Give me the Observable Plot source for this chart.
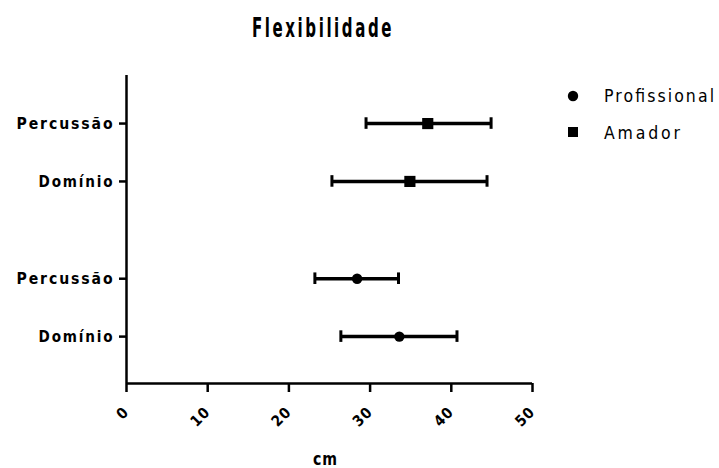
<!DOCTYPE html>
<html>
<head>
<meta charset="utf-8">
<script src="https://cdn.jsdelivr.net/npm/d3@7"></script>
<script src="https://cdn.jsdelivr.net/npm/@observablehq/plot@0.6"></script>
<style>
  html, body { margin: 0; padding: 0; background: #fff; }
  #wrap { position: relative; width: 719px; height: 468px; overflow: hidden; }
  #chart, #overlay { position: absolute; left: 0; top: 0; }
  #overlay text { font-family: "DejaVu Sans Condensed", "DejaVu Sans", sans-serif; fill: #000; }
  .yt text { font-weight: bold; letter-spacing: 2px; }
  .xt text { font-weight: bold; letter-spacing: 1px; }
</style>
</head>
<body>
<div id="wrap">
  <div id="chart"></div>
  <svg id="overlay" width="719" height="468"></svg>
</div>
<script>
const title = "Flexibilidade";
const groups = ["Profissional", "Amador"];
const categories = ["Domínio", "Percussão"];
const profMean = [33.6, 28.4];
const profLow = [26.4, 23.2];
const profHigh = [40.7, 33.5];
const amadorMean = [34.9, 37.1];
const amadorLow = [25.3, 29.5];
const amadorHigh = [44.4, 44.9];
const xTicks = [0, 10, 20, 30, 40, 50];
const xTitle = "cm";

const FONT = '"DejaVu Sans Condensed", "DejaVu Sans", sans-serif';
const groupGap = 0.68;
const series = [
  {group: groups[0], mean: profMean, low: profLow, high: profHigh, symbol: "circle", r: 5.2},
  {group: groups[1], mean: amadorMean, low: amadorLow, high: amadorHigh, symbol: "square", r: 6.3}
];
const rows = [];
series.forEach((s, gi) => {
  categories.forEach((c, i) => {
    rows.push({
      group: s.group, category: c, mean: s.mean[i], low: s.low[i], high: s.high[i],
      pos: gi * (categories.length + groupGap) + i, symbol: s.symbol, r: s.r
    });
  });
});
const labelAt = new Map(rows.map(d => [d.pos, d.category]));
const capHalf = 0.1;
const yMin = -0.81, yMax = rows[rows.length - 1].pos + 0.83;

const plot = Plot.plot({
  width: 719,
  height: 468,
  marginLeft: 126,
  marginRight: 187,
  marginTop: 75,
  marginBottom: 85,
  style: {fontFamily: FONT, fontSize: "15px", color: "#000", background: "#fff"},
  x: {domain: [0, 50]},
  y: {domain: [yMin, yMax]},
  symbol: {type: "identity"},
  r: {type: "identity"},
  marks: [
    Plot.axisX({ticks: xTicks, tickSize: 9, tickRotate: -45, tickPadding: 17, strokeWidth: 2.5, label: null, fontSize: 15, fill: "#000", className: "xt"}),
    Plot.axisY({ticks: rows.map(d => d.pos), tickFormat: p => labelAt.get(p), tickSize: 7, tickPadding: 5, strokeWidth: 2.5, label: null, fontSize: 16.5, fill: "#000", className: "yt"}),
    Plot.ruleX([0], {stroke: "#000", strokeWidth: 2.5}),
    Plot.ruleY([yMin], {stroke: "#000", strokeWidth: 2.5}),
    Plot.ruleY(rows, {y: "pos", x1: "low", x2: "high", stroke: "#000", strokeWidth: 3.5}),
    Plot.ruleX(rows, {x: "low", y1: d => d.pos - capHalf, y2: d => d.pos + capHalf, stroke: "#000", strokeWidth: 3}),
    Plot.ruleX(rows, {x: "high", y1: d => d.pos - capHalf, y2: d => d.pos + capHalf, stroke: "#000", strokeWidth: 3}),
    Plot.dot(rows, {x: "mean", y: "pos", symbol: "symbol", r: "r", fill: "#000", stroke: "none"})
  ]
});
document.getElementById("chart").appendChild(plot);

// fit y tick label widths to the reference's wide-spaced look
const yWidths = {"Percussão": 98, "Domínio": 76};
d3.select(plot).selectAll(".yt text").each(function () {
  const t = this.textContent.trim();
  if (yWidths[t]) {
    this.setAttribute("textLength", yWidths[t]);
    this.setAttribute("lengthAdjust", "spacingAndGlyphs");
  }
});

// title, axis title and legend
const ov = d3.select("#overlay");
function label(txt, x, y, size, weight, width, spacing, adjust) {
  return ov.append("text").attr("x", x).attr("y", y)
    .attr("font-size", size).attr("font-weight", weight)
    .style("letter-spacing", spacing + "px")
    .attr("textLength", width).attr("lengthAdjust", adjust || "spacingAndGlyphs")
    .text(txt);
}
label(title, 252, 36.5, 26, "bold", 142, 4);
label(xTitle, 313, 465, 17, "bold", 25, 1);

const legendY = [96, 132];
series.forEach((s, i) => {
  if (s.symbol === "circle") {
    ov.append("circle").attr("cx", 573).attr("cy", legendY[i]).attr("r", 5.2).attr("fill", "#000");
  } else {
    ov.append("rect").attr("x", 568).attr("y", legendY[i] - 5).attr("width", 10).attr("height", 10).attr("fill", "#000");
  }
});
label(groups[0], 604, 101.5, 17.5, "normal", 110, 0, "spacing");
label(groups[1], 604, 138.5, 17.5, "normal", 76, 0, "spacing");
</script>
</body>
</html>
